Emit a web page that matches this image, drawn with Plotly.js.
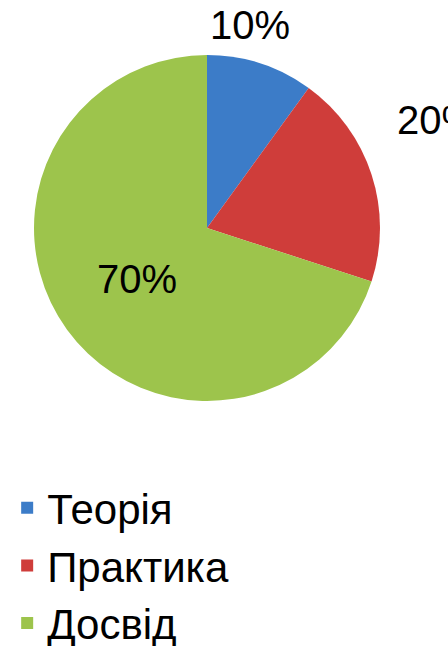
<!DOCTYPE html>
<html>
<head>
<meta charset="utf-8">
<script src="https://cdn.plot.ly/plotly-3.0.1.min.js"></script>
<style>html,body{margin:0;padding:0;background:#fff;}</style>
</head>
<body>
<div id="chart" style="width:448px;height:646px;"></div>
<script>
const labels = ['Теорія', 'Практика', 'Досвід'];
const values = [10, 20, 70];
const colors = ['#3C7CC8', '#CF3D3A', '#9DC44C'];
const positions = ['none', 'none', 'inside'];

const FONT = 'Liberation Sans, Arial, sans-serif';
const total = values.reduce((a, b) => a + b, 0);
const pct = values.map(v => Math.round(v / total * 100) + '%');

const trace = {
  type: 'pie',
  labels: labels,
  values: values,
  sort: false,
  direction: 'clockwise',
  rotation: 0,
  marker: {colors: colors, line: {width: 0}},
  textinfo: 'percent',
  texttemplate: '%{percent:.0%}',
  textposition: positions,
  insidetextfont: {family: FONT, size: 40, color: '#000'},
  domain: {x: [34/448, 380/448], y: [245/646, 591/646]},
  automargin: false,
  hoverinfo: 'none'
};

const layout = {
  width: 448,
  height: 646,
  margin: {l: 0, r: 0, t: 0, b: 0, autoexpand: false},
  paper_bgcolor: '#fff',
  showlegend: true,
  legend: {
    x: 0.016, y: -0.017, xanchor: 'left', yanchor: 'bottom',
    font: {family: FONT, size: 42, color: '#000'},
    bgcolor: 'rgba(0,0,0,0)'
  },
  font: {family: FONT},
  annotations: [
    {text: pct[0], xref: 'paper', yref: 'paper', x: 250/448, y: (646-25)/646,
     xanchor: 'center', yanchor: 'middle', showarrow: false,
     font: {family: FONT, size: 40, color: '#000'}},
    {text: pct[1], xref: 'paper', yref: 'paper', x: 395/448, y: (646-120)/646,
     xanchor: 'left', yanchor: 'middle', showarrow: false,
     font: {family: FONT, size: 40, color: '#000'}}
  ]
};

Plotly.newPlot('chart', [trace], layout, {displayModeBar: false, staticPlot: true});
</script>
</body>
</html>
